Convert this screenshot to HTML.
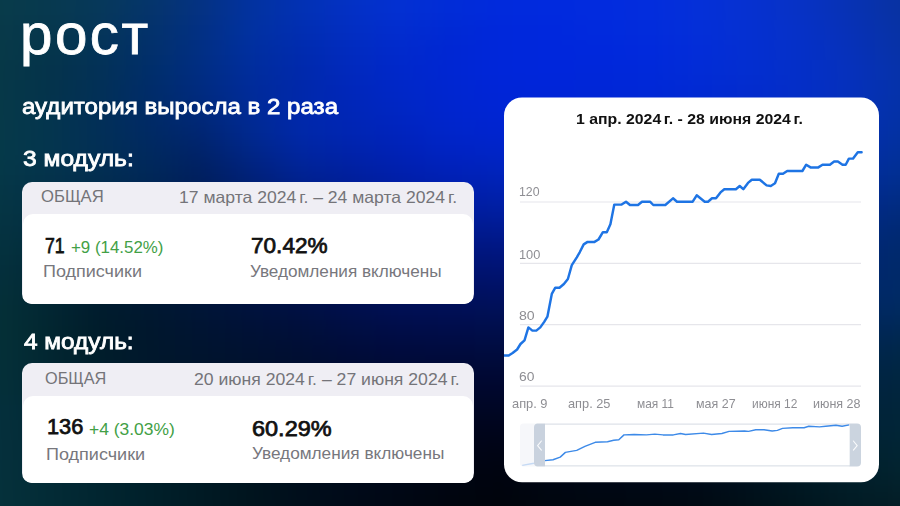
<!DOCTYPE html>
<html><head><meta charset="utf-8">
<style>
*{margin:0;padding:0;box-sizing:border-box}
html,body{width:900px;height:506px;overflow:hidden}
body{position:relative;font-family:"Liberation Sans",sans-serif;background:#01060f}
#bg{position:absolute;left:0;top:0;width:900px;height:506px;overflow:hidden}
#bgi{position:absolute;left:0;top:0;width:900px;height:506px;filter:blur(8px)}
#bg i{position:absolute;left:-100px;width:1100px;height:20px}
.t{position:absolute;white-space:nowrap;line-height:1;transform-origin:0 0}
.card{position:absolute;left:22px;width:452px;background:#efeef4;border-radius:10px;overflow:hidden}
.card .in{position:absolute;left:1px;right:1px;bottom:0;background:#fff;border-radius:10px 10px 0 0}
</style></head><body>
<div id="bg"><div id="bgi"><i style="top:-40px;background:linear-gradient(90deg,rgb(9,59,75) 0px,rgb(9,59,75) 50px,rgb(9,59,75) 100px,rgb(8,58,80) 150px,rgb(7,57,91) 200px,rgb(6,54,108) 250px,rgb(5,51,130) 300px,rgb(3,51,159) 350px,rgb(3,50,179) 400px,rgb(3,50,197) 450px,rgb(3,49,211) 500px,rgb(2,45,216) 550px,rgb(1,43,220) 600px,rgb(1,43,222) 650px,rgb(2,44,222) 700px,rgb(4,46,221) 750px,rgb(5,49,216) 800px,rgb(6,50,208) 850px,rgb(7,50,196) 900px,rgb(8,50,179) 950px,rgb(8,50,161) 1000px,rgb(8,50,161) 1050px,rgb(8,50,161) 1100px)"></i><i style="top:-20px;background:linear-gradient(90deg,rgb(9,59,75) 0px,rgb(9,59,75) 50px,rgb(9,59,75) 100px,rgb(8,58,80) 150px,rgb(7,57,91) 200px,rgb(6,54,108) 250px,rgb(5,51,130) 300px,rgb(3,51,159) 350px,rgb(3,50,179) 400px,rgb(3,50,197) 450px,rgb(3,49,211) 500px,rgb(2,45,216) 550px,rgb(1,43,220) 600px,rgb(1,43,222) 650px,rgb(2,44,222) 700px,rgb(4,46,221) 750px,rgb(5,49,216) 800px,rgb(6,50,208) 850px,rgb(7,50,196) 900px,rgb(8,50,179) 950px,rgb(8,50,161) 1000px,rgb(8,50,161) 1050px,rgb(8,50,161) 1100px)"></i><i style="top:0px;background:linear-gradient(90deg,rgb(8,59,74) 0px,rgb(8,59,74) 50px,rgb(8,59,74) 100px,rgb(7,57,79) 150px,rgb(6,56,90) 200px,rgb(5,52,107) 250px,rgb(4,50,130) 300px,rgb(2,50,159) 350px,rgb(2,49,179) 400px,rgb(3,48,196) 450px,rgb(3,48,210) 500px,rgb(1,44,215) 550px,rgb(1,42,220) 600px,rgb(1,42,222) 650px,rgb(2,43,222) 700px,rgb(3,45,221) 750px,rgb(5,48,216) 800px,rgb(6,49,208) 850px,rgb(7,50,197) 900px,rgb(7,50,180) 950px,rgb(8,50,162) 1000px,rgb(8,50,162) 1050px,rgb(8,50,162) 1100px)"></i><i style="top:20px;background:linear-gradient(90deg,rgb(8,57,73) 0px,rgb(8,57,73) 50px,rgb(8,57,73) 100px,rgb(6,55,77) 150px,rgb(5,53,89) 200px,rgb(3,50,107) 250px,rgb(2,48,131) 300px,rgb(1,49,160) 350px,rgb(1,46,177) 400px,rgb(2,46,194) 450px,rgb(2,45,207) 500px,rgb(0,41,212) 550px,rgb(0,40,219) 600px,rgb(0,40,221) 650px,rgb(1,42,221) 700px,rgb(2,44,220) 750px,rgb(4,47,216) 800px,rgb(5,48,209) 850px,rgb(6,49,199) 900px,rgb(7,49,183) 950px,rgb(7,50,164) 1000px,rgb(7,50,164) 1050px,rgb(7,50,164) 1100px)"></i><i style="top:40px;background:linear-gradient(90deg,rgb(7,57,72) 0px,rgb(7,57,72) 50px,rgb(7,57,72) 100px,rgb(5,53,75) 150px,rgb(3,51,88) 200px,rgb(2,48,107) 250px,rgb(1,47,131) 300px,rgb(0,47,159) 350px,rgb(0,43,174) 400px,rgb(1,43,191) 450px,rgb(1,42,204) 500px,rgb(0,39,211) 550px,rgb(0,39,218) 600px,rgb(0,39,220) 650px,rgb(0,40,220) 700px,rgb(1,42,220) 750px,rgb(3,45,216) 800px,rgb(4,47,209) 850px,rgb(5,48,200) 900px,rgb(6,49,186) 950px,rgb(7,50,167) 1000px,rgb(7,50,167) 1050px,rgb(7,50,167) 1100px)"></i><i style="top:60px;background:linear-gradient(90deg,rgb(6,56,71) 0px,rgb(6,56,71) 50px,rgb(6,56,71) 100px,rgb(5,51,75) 150px,rgb(3,49,87) 200px,rgb(0,46,106) 250px,rgb(0,45,130) 300px,rgb(0,45,156) 350px,rgb(0,41,171) 400px,rgb(1,41,189) 450px,rgb(0,40,202) 500px,rgb(0,38,210) 550px,rgb(0,38,217) 600px,rgb(0,38,219) 650px,rgb(0,39,218) 700px,rgb(0,41,218) 750px,rgb(2,44,214) 800px,rgb(3,46,208) 850px,rgb(4,47,200) 900px,rgb(6,49,188) 950px,rgb(6,50,169) 1000px,rgb(6,50,169) 1050px,rgb(6,50,169) 1100px)"></i><i style="top:80px;background:linear-gradient(90deg,rgb(6,56,72) 0px,rgb(6,56,72) 50px,rgb(6,56,72) 100px,rgb(4,51,75) 150px,rgb(2,48,87) 200px,rgb(0,44,105) 250px,rgb(0,43,127) 300px,rgb(0,43,153) 350px,rgb(0,40,170) 400px,rgb(0,39,186) 450px,rgb(0,39,199) 500px,rgb(0,38,208) 550px,rgb(0,37,215) 600px,rgb(0,37,216) 650px,rgb(0,38,215) 700px,rgb(0,40,215) 750px,rgb(1,42,211) 800px,rgb(3,44,206) 850px,rgb(4,46,199) 900px,rgb(5,48,188) 950px,rgb(5,50,169) 1000px,rgb(5,50,169) 1050px,rgb(5,50,169) 1100px)"></i><i style="top:100px;background:linear-gradient(90deg,rgb(6,57,72) 0px,rgb(6,57,72) 50px,rgb(6,57,72) 100px,rgb(4,52,77) 150px,rgb(2,47,88) 200px,rgb(0,43,103) 250px,rgb(0,41,122) 300px,rgb(0,42,149) 350px,rgb(0,40,171) 400px,rgb(0,38,183) 450px,rgb(0,38,195) 500px,rgb(0,37,206) 550px,rgb(0,37,212) 600px,rgb(0,37,212) 650px,rgb(0,37,211) 700px,rgb(0,39,210) 750px,rgb(1,41,206) 800px,rgb(2,43,201) 850px,rgb(3,46,195) 900px,rgb(4,48,185) 950px,rgb(4,49,167) 1000px,rgb(4,49,167) 1050px,rgb(4,49,167) 1100px)"></i><i style="top:120px;background:linear-gradient(90deg,rgb(6,57,73) 0px,rgb(6,57,73) 50px,rgb(6,57,73) 100px,rgb(4,53,78) 150px,rgb(2,47,87) 200px,rgb(0,42,100) 250px,rgb(0,38,115) 300px,rgb(0,41,144) 350px,rgb(0,40,169) 400px,rgb(0,37,179) 450px,rgb(0,36,190) 500px,rgb(0,37,202) 550px,rgb(0,36,208) 600px,rgb(0,36,206) 650px,rgb(0,36,205) 700px,rgb(0,37,203) 750px,rgb(0,40,200) 800px,rgb(1,42,195) 850px,rgb(2,44,189) 900px,rgb(3,47,179) 950px,rgb(3,49,163) 1000px,rgb(3,49,163) 1050px,rgb(3,49,163) 1100px)"></i><i style="top:140px;background:linear-gradient(90deg,rgb(5,57,73) 0px,rgb(5,57,73) 50px,rgb(5,57,73) 100px,rgb(4,53,78) 150px,rgb(2,47,85) 200px,rgb(0,41,95) 250px,rgb(0,35,106) 300px,rgb(0,38,135) 350px,rgb(0,38,161) 400px,rgb(0,35,171) 450px,rgb(0,34,183) 500px,rgb(0,35,195) 550px,rgb(0,36,200) 600px,rgb(0,35,198) 650px,rgb(0,35,197) 700px,rgb(0,36,195) 750px,rgb(0,38,192) 800px,rgb(1,41,188) 850px,rgb(1,43,181) 900px,rgb(2,46,171) 950px,rgb(2,48,156) 1000px,rgb(2,48,156) 1050px,rgb(2,48,156) 1100px)"></i><i style="top:160px;background:linear-gradient(90deg,rgb(5,56,72) 0px,rgb(5,56,72) 50px,rgb(5,56,72) 100px,rgb(4,51,76) 150px,rgb(2,46,82) 200px,rgb(0,40,90) 250px,rgb(0,32,97) 300px,rgb(0,34,124) 350px,rgb(0,35,149) 400px,rgb(0,32,160) 450px,rgb(0,32,174) 500px,rgb(0,33,185) 550px,rgb(0,35,189) 600px,rgb(0,34,188) 650px,rgb(0,34,187) 700px,rgb(0,35,186) 750px,rgb(0,37,183) 800px,rgb(0,39,179) 850px,rgb(1,42,172) 900px,rgb(1,45,161) 950px,rgb(1,47,148) 1000px,rgb(1,47,148) 1050px,rgb(1,47,148) 1100px)"></i><i style="top:180px;background:linear-gradient(90deg,rgb(5,54,70) 0px,rgb(5,54,70) 50px,rgb(5,54,70) 100px,rgb(3,49,73) 150px,rgb(1,44,77) 200px,rgb(0,37,83) 250px,rgb(0,30,90) 300px,rgb(0,31,113) 350px,rgb(0,31,136) 400px,rgb(0,29,149) 450px,rgb(0,29,163) 500px,rgb(0,31,172) 550px,rgb(0,33,176) 600px,rgb(0,32,176) 650px,rgb(0,32,176) 700px,rgb(0,33,175) 750px,rgb(0,35,173) 800px,rgb(0,38,169) 850px,rgb(0,41,162) 900px,rgb(0,43,151) 950px,rgb(1,45,137) 1000px,rgb(1,45,137) 1050px,rgb(1,45,137) 1100px)"></i><i style="top:200px;background:linear-gradient(90deg,rgb(5,53,68) 0px,rgb(5,53,68) 50px,rgb(5,53,68) 100px,rgb(3,47,69) 150px,rgb(1,41,72) 200px,rgb(0,35,76) 250px,rgb(0,28,84) 300px,rgb(0,28,102) 350px,rgb(0,28,123) 400px,rgb(0,27,137) 450px,rgb(0,26,149) 500px,rgb(0,28,158) 550px,rgb(0,30,161) 600px,rgb(0,30,162) 650px,rgb(0,30,163) 700px,rgb(0,32,164) 750px,rgb(0,34,162) 800px,rgb(0,37,158) 850px,rgb(0,39,151) 900px,rgb(0,41,139) 950px,rgb(1,43,126) 1000px,rgb(1,43,126) 1050px,rgb(1,43,126) 1100px)"></i><i style="top:220px;background:linear-gradient(90deg,rgb(5,51,65) 0px,rgb(5,51,65) 50px,rgb(5,51,65) 100px,rgb(3,44,64) 150px,rgb(1,38,66) 200px,rgb(0,32,69) 250px,rgb(0,27,77) 300px,rgb(0,25,93) 350px,rgb(0,25,110) 400px,rgb(0,24,124) 450px,rgb(0,24,135) 500px,rgb(0,25,142) 550px,rgb(0,26,145) 600px,rgb(0,27,148) 650px,rgb(0,28,150) 700px,rgb(0,30,151) 750px,rgb(0,32,151) 800px,rgb(0,35,147) 850px,rgb(0,38,140) 900px,rgb(0,40,129) 950px,rgb(0,41,116) 1000px,rgb(0,41,116) 1050px,rgb(0,41,116) 1100px)"></i><i style="top:240px;background:linear-gradient(90deg,rgb(4,50,62) 0px,rgb(4,50,62) 50px,rgb(4,50,62) 100px,rgb(2,42,60) 150px,rgb(1,35,59) 200px,rgb(0,29,63) 250px,rgb(0,25,70) 300px,rgb(0,23,83) 350px,rgb(0,22,98) 400px,rgb(0,21,111) 450px,rgb(0,21,121) 500px,rgb(0,21,126) 550px,rgb(0,22,129) 600px,rgb(0,24,133) 650px,rgb(0,26,137) 700px,rgb(0,28,139) 750px,rgb(0,31,139) 800px,rgb(0,34,136) 850px,rgb(0,37,130) 900px,rgb(0,39,120) 950px,rgb(0,41,109) 1000px,rgb(0,41,109) 1050px,rgb(0,41,109) 1100px)"></i><i style="top:260px;background:linear-gradient(90deg,rgb(4,48,60) 0px,rgb(4,48,60) 50px,rgb(4,48,60) 100px,rgb(2,40,56) 150px,rgb(0,32,54) 200px,rgb(0,27,57) 250px,rgb(0,23,64) 300px,rgb(0,21,75) 350px,rgb(0,20,86) 400px,rgb(0,19,98) 450px,rgb(0,19,107) 500px,rgb(0,19,111) 550px,rgb(0,19,114) 600px,rgb(0,22,119) 650px,rgb(0,24,124) 700px,rgb(0,26,126) 750px,rgb(0,29,127) 800px,rgb(0,33,125) 850px,rgb(0,36,120) 900px,rgb(0,39,113) 950px,rgb(0,41,105) 1000px,rgb(0,41,105) 1050px,rgb(0,41,105) 1100px)"></i><i style="top:280px;background:linear-gradient(90deg,rgb(4,48,58) 0px,rgb(4,48,58) 50px,rgb(4,48,58) 100px,rgb(2,39,52) 150px,rgb(0,30,49) 200px,rgb(0,25,52) 250px,rgb(0,22,59) 300px,rgb(0,19,67) 350px,rgb(0,18,76) 400px,rgb(0,17,86) 450px,rgb(0,17,94) 500px,rgb(0,17,98) 550px,rgb(0,17,100) 600px,rgb(0,19,105) 650px,rgb(0,22,110) 700px,rgb(0,24,114) 750px,rgb(0,28,115) 800px,rgb(0,31,114) 850px,rgb(0,35,111) 900px,rgb(0,39,107) 950px,rgb(0,42,103) 1000px,rgb(0,42,103) 1050px,rgb(0,42,103) 1100px)"></i><i style="top:300px;background:linear-gradient(90deg,rgb(4,48,56) 0px,rgb(4,48,56) 50px,rgb(4,48,56) 100px,rgb(2,38,50) 150px,rgb(0,28,45) 200px,rgb(0,24,48) 250px,rgb(0,21,54) 300px,rgb(0,18,60) 350px,rgb(0,16,66) 400px,rgb(0,15,75) 450px,rgb(0,15,83) 500px,rgb(0,15,85) 550px,rgb(0,16,87) 600px,rgb(0,17,92) 650px,rgb(0,20,98) 700px,rgb(0,22,102) 750px,rgb(0,26,104) 800px,rgb(0,30,103) 850px,rgb(0,34,101) 900px,rgb(0,38,99) 950px,rgb(0,42,96) 1000px,rgb(0,42,96) 1050px,rgb(0,42,96) 1100px)"></i><i style="top:320px;background:linear-gradient(90deg,rgb(4,48,55) 0px,rgb(4,48,55) 50px,rgb(4,48,55) 100px,rgb(2,38,48) 150px,rgb(0,28,43) 200px,rgb(0,23,45) 250px,rgb(0,20,50) 300px,rgb(0,17,54) 350px,rgb(0,15,58) 400px,rgb(0,14,66) 450px,rgb(0,13,72) 500px,rgb(0,13,74) 550px,rgb(0,14,75) 600px,rgb(0,15,80) 650px,rgb(0,18,86) 700px,rgb(0,21,90) 750px,rgb(0,24,92) 800px,rgb(0,29,93) 850px,rgb(0,33,91) 900px,rgb(0,37,89) 950px,rgb(0,40,85) 1000px,rgb(0,40,85) 1050px,rgb(0,40,85) 1100px)"></i><i style="top:340px;background:linear-gradient(90deg,rgb(4,48,56) 0px,rgb(4,48,56) 50px,rgb(4,48,56) 100px,rgb(2,38,49) 150px,rgb(0,29,43) 200px,rgb(0,23,44) 250px,rgb(0,20,47) 300px,rgb(0,17,49) 350px,rgb(0,14,52) 400px,rgb(0,12,58) 450px,rgb(0,11,62) 500px,rgb(0,11,63) 550px,rgb(0,12,64) 600px,rgb(0,13,69) 650px,rgb(0,16,74) 700px,rgb(0,19,79) 750px,rgb(0,23,81) 800px,rgb(0,27,83) 850px,rgb(0,32,82) 900px,rgb(0,36,79) 950px,rgb(0,39,74) 1000px,rgb(0,39,74) 1050px,rgb(0,39,74) 1100px)"></i><i style="top:360px;background:linear-gradient(90deg,rgb(4,48,57) 0px,rgb(4,48,57) 50px,rgb(4,48,57) 100px,rgb(2,38,50) 150px,rgb(0,30,44) 200px,rgb(0,24,43) 250px,rgb(0,20,44) 300px,rgb(0,17,45) 350px,rgb(0,14,47) 400px,rgb(0,11,50) 450px,rgb(0,10,53) 500px,rgb(0,9,53) 550px,rgb(0,9,54) 600px,rgb(0,11,58) 650px,rgb(0,14,64) 700px,rgb(0,17,68) 750px,rgb(0,21,71) 800px,rgb(0,26,73) 850px,rgb(0,31,73) 900px,rgb(0,35,70) 950px,rgb(0,38,67) 1000px,rgb(0,38,67) 1050px,rgb(0,38,67) 1100px)"></i><i style="top:380px;background:linear-gradient(90deg,rgb(4,48,58) 0px,rgb(4,48,58) 50px,rgb(4,48,58) 100px,rgb(2,39,51) 150px,rgb(1,31,45) 200px,rgb(0,25,42) 250px,rgb(0,21,42) 300px,rgb(0,17,42) 350px,rgb(0,13,42) 400px,rgb(0,11,44) 450px,rgb(0,9,45) 500px,rgb(0,7,44) 550px,rgb(0,7,45) 600px,rgb(0,9,49) 650px,rgb(0,12,54) 700px,rgb(0,15,58) 750px,rgb(0,19,61) 800px,rgb(0,24,64) 850px,rgb(0,30,65) 900px,rgb(0,34,64) 950px,rgb(1,37,62) 1000px,rgb(1,37,62) 1050px,rgb(1,37,62) 1100px)"></i><i style="top:400px;background:linear-gradient(90deg,rgb(4,48,60) 0px,rgb(4,48,60) 50px,rgb(4,48,60) 100px,rgb(2,40,53) 150px,rgb(1,32,46) 200px,rgb(0,26,42) 250px,rgb(0,22,40) 300px,rgb(0,17,39) 350px,rgb(0,13,38) 400px,rgb(0,10,39) 450px,rgb(0,8,38) 500px,rgb(0,6,36) 550px,rgb(0,6,36) 600px,rgb(0,8,40) 650px,rgb(0,11,45) 700px,rgb(0,13,49) 750px,rgb(0,17,52) 800px,rgb(0,23,55) 850px,rgb(0,29,58) 900px,rgb(0,34,59) 950px,rgb(1,37,58) 1000px,rgb(1,37,58) 1050px,rgb(1,37,58) 1100px)"></i><i style="top:420px;background:linear-gradient(90deg,rgb(5,48,60) 0px,rgb(5,48,60) 50px,rgb(5,48,60) 100px,rgb(3,41,53) 150px,rgb(1,34,47) 200px,rgb(0,28,42) 250px,rgb(0,23,39) 300px,rgb(0,18,36) 350px,rgb(0,13,35) 400px,rgb(0,10,34) 450px,rgb(0,7,32) 500px,rgb(0,5,29) 550px,rgb(0,5,28) 600px,rgb(0,7,32) 650px,rgb(0,9,37) 700px,rgb(0,12,40) 750px,rgb(0,16,44) 800px,rgb(0,21,47) 850px,rgb(0,28,51) 900px,rgb(0,33,54) 950px,rgb(1,37,55) 1000px,rgb(1,37,55) 1050px,rgb(1,37,55) 1100px)"></i><i style="top:440px;background:linear-gradient(90deg,rgb(5,48,60) 0px,rgb(5,48,60) 50px,rgb(5,48,60) 100px,rgb(3,42,54) 150px,rgb(1,35,48) 200px,rgb(0,29,42) 250px,rgb(0,24,38) 300px,rgb(0,18,34) 350px,rgb(0,14,32) 400px,rgb(0,10,31) 450px,rgb(0,7,28) 500px,rgb(0,5,23) 550px,rgb(0,4,21) 600px,rgb(0,6,26) 650px,rgb(0,8,30) 700px,rgb(0,10,33) 750px,rgb(0,14,36) 800px,rgb(0,19,40) 850px,rgb(0,26,45) 900px,rgb(0,33,49) 950px,rgb(1,36,51) 1000px,rgb(1,36,51) 1050px,rgb(1,36,51) 1100px)"></i><i style="top:460px;background:linear-gradient(90deg,rgb(5,49,60) 0px,rgb(5,49,60) 50px,rgb(5,49,60) 100px,rgb(3,42,54) 150px,rgb(1,36,48) 200px,rgb(0,31,42) 250px,rgb(0,25,37) 300px,rgb(0,19,32) 350px,rgb(0,14,30) 400px,rgb(0,10,27) 450px,rgb(0,7,24) 500px,rgb(0,5,19) 550px,rgb(0,4,16) 600px,rgb(0,6,21) 650px,rgb(0,8,24) 700px,rgb(0,9,26) 750px,rgb(0,12,28) 800px,rgb(0,18,33) 850px,rgb(0,25,39) 900px,rgb(0,31,45) 950px,rgb(2,35,47) 1000px,rgb(2,35,47) 1050px,rgb(2,35,47) 1100px)"></i><i style="top:480px;background:linear-gradient(90deg,rgb(5,49,59) 0px,rgb(5,49,59) 50px,rgb(5,49,59) 100px,rgb(3,43,54) 150px,rgb(1,37,48) 200px,rgb(0,32,42) 250px,rgb(0,26,36) 300px,rgb(0,20,30) 350px,rgb(0,14,27) 400px,rgb(0,10,25) 450px,rgb(0,7,21) 500px,rgb(0,5,16) 550px,rgb(0,4,13) 600px,rgb(0,6,17) 650px,rgb(0,7,19) 700px,rgb(0,8,20) 750px,rgb(0,10,22) 800px,rgb(0,16,27) 850px,rgb(0,23,33) 900px,rgb(1,29,39) 950px,rgb(3,32,42) 1000px,rgb(3,32,42) 1050px,rgb(3,32,42) 1100px)"></i><i style="top:500px;background:linear-gradient(90deg,rgb(5,49,58) 0px,rgb(5,49,58) 50px,rgb(5,49,58) 100px,rgb(3,44,53) 150px,rgb(1,38,48) 200px,rgb(0,32,42) 250px,rgb(0,26,35) 300px,rgb(0,20,29) 350px,rgb(0,15,26) 400px,rgb(0,10,23) 450px,rgb(0,7,18) 500px,rgb(0,5,14) 550px,rgb(0,5,11) 600px,rgb(0,6,14) 650px,rgb(0,6,15) 700px,rgb(0,7,16) 750px,rgb(0,9,17) 800px,rgb(0,15,23) 850px,rgb(1,21,29) 900px,rgb(2,26,35) 950px,rgb(4,28,37) 1000px,rgb(4,28,37) 1050px,rgb(4,28,37) 1100px)"></i><i style="top:520px;background:linear-gradient(90deg,rgb(5,49,58) 0px,rgb(5,49,58) 50px,rgb(5,49,58) 100px,rgb(3,44,53) 150px,rgb(1,38,48) 200px,rgb(0,32,42) 250px,rgb(0,26,35) 300px,rgb(0,20,29) 350px,rgb(0,15,26) 400px,rgb(0,10,23) 450px,rgb(0,7,18) 500px,rgb(0,5,14) 550px,rgb(0,5,11) 600px,rgb(0,6,14) 650px,rgb(0,6,15) 700px,rgb(0,7,16) 750px,rgb(0,9,17) 800px,rgb(0,15,23) 850px,rgb(1,21,29) 900px,rgb(2,26,35) 950px,rgb(4,28,37) 1000px,rgb(4,28,37) 1050px,rgb(4,28,37) 1100px)"></i><i style="top:540px;background:linear-gradient(90deg,rgb(5,49,58) 0px,rgb(5,49,58) 50px,rgb(5,49,58) 100px,rgb(3,44,53) 150px,rgb(1,38,48) 200px,rgb(0,32,42) 250px,rgb(0,26,35) 300px,rgb(0,20,29) 350px,rgb(0,15,26) 400px,rgb(0,10,23) 450px,rgb(0,7,18) 500px,rgb(0,5,14) 550px,rgb(0,5,11) 600px,rgb(0,6,14) 650px,rgb(0,6,15) 700px,rgb(0,7,16) 750px,rgb(0,9,17) 800px,rgb(0,15,23) 850px,rgb(1,21,29) 900px,rgb(2,26,35) 950px,rgb(4,28,37) 1000px,rgb(4,28,37) 1050px,rgb(4,28,37) 1100px)"></i></div></div>
<div class="t " style="left:20.0px;top:6.26px;font-size:57px;letter-spacing:2.4px;transform:scaleX(1.023);color:#fff;-webkit-text-stroke:0.8px #fff">рост</div>
<div class="t " style="left:22.0px;top:95.98px;font-size:22px;transform:scaleX(1.0941);color:#fff;-webkit-text-stroke:0.8px #fff">аудитория выросла в 2 раза</div>
<div class="t " style="left:23.0px;top:149.44px;font-size:21.5px;transform:scaleX(1.1448);color:#fff;-webkit-text-stroke:0.8px #fff">3 модуль:</div>
<div class="t " style="left:24.0px;top:332.0px;font-size:21.5px;transform:scaleX(1.1329);color:#fff;-webkit-text-stroke:0.8px #fff">4 модуль:</div>
<div class="card" style="top:182px;height:122px"><div class="in" style="top:32px"></div></div>
<div class="card" style="top:363px;height:120px"><div class="in" style="top:33px"></div></div>
<div class="t " style="left:41.4px;top:188.44px;font-size:16.4px;transform:scaleX(1.0169);color:#747479">ОБЩАЯ</div>
<div class="t " style="left:178.9px;top:188.8px;font-size:16.5px;transform:scaleX(1.0648);color:#747479">17 марта 2024&#8198;г. – 24 марта 2024&#8198;г.</div>
<div class="t " style="left:44.8px;top:234.82px;font-size:21.7px;transform:scaleX(0.8168);color:#111;-webkit-text-stroke:0.75px #111">71</div>
<div class="t " style="left:70.9px;top:239.42px;font-size:16.5px;transform:scaleX(1.0235);color:#42a046">+9 (14.52%)</div>
<div class="t " style="left:42.7px;top:263.5px;font-size:16px;transform:scaleX(1.1242);color:#77777d">Подписчики</div>
<div class="t " style="left:250.5px;top:234.82px;font-size:21.7px;transform:scaleX(1.0408);color:#111;-webkit-text-stroke:0.75px #111">70.42%</div>
<div class="t " style="left:249.5px;top:263.98px;font-size:16px;transform:scaleX(1.0719);color:#77777d">Уведомления включены</div>
<div class="t " style="left:44.5px;top:370.34px;font-size:16.4px;transform:scaleX(0.9938);color:#747479">ОБЩАЯ</div>
<div class="t " style="left:193.5px;top:371.4px;font-size:16.5px;transform:scaleX(1.0677);color:#747479">20 июня 2024&#8198;г. – 27 июня 2024&#8198;г.</div>
<div class="t " style="left:46.5px;top:416.38px;font-size:21.7px;transform:scaleX(1.0041);color:#111;-webkit-text-stroke:0.75px #111">136</div>
<div class="t " style="left:89.0px;top:421.1px;font-size:16.5px;transform:scaleX(1.0575);color:#42a046">+4 (3.03%)</div>
<div class="t " style="left:45.5px;top:447.26px;font-size:16px;transform:scaleX(1.1264);color:#77777d">Подписчики</div>
<div class="t " style="left:252.2px;top:417.58px;font-size:21.7px;transform:scaleX(1.0823);color:#111;-webkit-text-stroke:0.75px #111">60.29%</div>
<div class="t " style="left:252.2px;top:445.5px;font-size:16px;transform:scaleX(1.076);color:#77777d">Уведомления включены</div>
<svg style="position:absolute;left:0;top:0" width="900" height="506" viewBox="0 0 900 506">
  <defs><clipPath id="cc"><rect x="504" y="97.5" width="375" height="384.8" rx="18" ry="18"/></clipPath></defs>
  <rect x="504" y="97.5" width="375" height="384.8" rx="18" ry="18" fill="#fff"/>
  <g clip-path="url(#cc)">
    <g stroke="#e6e6eb" stroke-width="1.2">
      <line x1="520" y1="202" x2="861" y2="202"/>
      <line x1="520" y1="263.3" x2="861" y2="263.3"/>
      <line x1="520" y1="324.6" x2="861" y2="324.6"/>
      <line x1="520" y1="386.1" x2="861" y2="386.1"/>
    </g>
    <polyline points="503,355.5 508.7,355.5 512.6,353 517.1,349.5 520.5,344 524.5,340.3 528.4,327.4 532.4,330.6 536.3,330.6 540.3,327.4 544.2,321.9 547.4,316.7 551.8,293.9 555.3,287.7 559.5,287.7 563.9,284 567.9,279 571.8,265.2 576.8,257.3 579.7,252.3 583.7,244.4 587.6,241.9 594.5,241.9 598.5,239.5 602.9,232.2 606.8,232.2 610.4,224.3 614.3,204.6 621.6,204.6 626,201.7 630,205 638,205 642,201.7 650,201.7 653.3,205 665.3,205 673,198.3 677,201.7 692.7,201.7 696.7,195.3 704.7,201.7 708,201.7 712,198.3 716,198.3 720.5,192.4 724.3,189.2 735.9,189.2 739.7,186 743.3,189.2 748,182.9 751.8,179.7 759.8,179.7 766.6,185.4 770.8,186 775,183.3 778.8,173.8 783,173.8 787.2,171 802.4,171 806.2,164.7 810.5,167.4 818.3,167.4 822.5,164.7 829.9,164.7 834.1,161.5 837.9,161.5 842.5,164.7 845.7,164.7 848.9,158.6 853.1,158.6 857.8,152.2 861.6,152.2" fill="none" stroke="#1e74e4" stroke-width="2.45" stroke-linejoin="round" stroke-linecap="round"/>
    <rect x="545" y="423.6" width="305" height="42.8" fill="#fff"/>
    <line x1="545" y1="424.1" x2="850" y2="424.1" stroke="#d5dbe3" stroke-width="1"/>
    <line x1="545" y1="465.9" x2="850" y2="465.9" stroke="#d5dbe3" stroke-width="1"/>
    <polyline points="522.2,465.4 533.9,463.3 544.8,460.6 553,459.8 560.2,457.1 565.4,452.4 569.5,451.6 576.7,450.4 584.9,446.4 595.2,442.3 607.5,441.7 613.7,440.3 618.8,439.7 624,434.9 634.2,434.5 646.5,434.9 654.8,434.1 663,434.9 673.3,434.9 680.5,433.5 685.6,434.5 703.4,433.1 711.6,434.5 721.9,433.5 729.1,431.4 744.5,431 748.6,431.4 755.8,429.8 764,429.8 772.2,431 777.4,430.4 782.5,428.4 792.8,427.7 804.1,427.7 808.8,426.3 819.5,426.9 825.7,426.3 835.9,425.3 842.1,426.3 849.3,424.9" fill="none" stroke="#3d8ae8" stroke-width="1.45" stroke-linejoin="round"/>
    <path d="M538,423.6 H523.5 a3.5,3.5 0 0 0 -3.5,3.5 V463 a3.5,3.5 0 0 0 3.5,3.5 H538z" fill="#f3f4f8" fill-opacity="0.75"/>
    <path d="M545,423.4 V466.4 H538 a4,4 0 0 1 -4,-4 V427.4 a4,4 0 0 1 4,-4z" fill="#c9d2de"/>
    <path d="M849.7,423.4 V466.4 H857 a4,4 0 0 0 4,-4 V427.4 a4,4 0 0 0 -4,-4z" fill="#cbd4df"/>
    <path d="M541.4,441 L537.6,445.6 L541.4,450.2" fill="none" stroke="#fff" stroke-opacity="0.9" stroke-width="1.1" stroke-linecap="round" stroke-linejoin="round"/>
    <path d="M853.4,441 L857.2,445.6 L853.4,450.2" fill="none" stroke="#fff" stroke-opacity="0.9" stroke-width="1.1" stroke-linecap="round" stroke-linejoin="round"/>
  </g>
</svg>
<div class="t " style="left:575.9px;top:111.72px;font-size:14px;transform:scaleX(1.1298);color:#111;font-weight:bold">1 апр. 2024&#8198;г. - 28 июня 2024&#8198;г.</div>
<div class="t " style="left:519.0px;top:186.42px;font-size:12.2px;transform:scaleX(1.0096);color:#8e8e93">120</div>
<div class="t " style="left:518.7px;top:248.56px;font-size:12.2px;transform:scaleX(1.0511);color:#8e8e93">100</div>
<div class="t " style="left:518.7px;top:310.34px;font-size:12.2px;transform:scaleX(1.1592);color:#8e8e93">80</div>
<div class="t " style="left:519.1px;top:371.34px;font-size:12.2px;transform:scaleX(1.1343);color:#8e8e93">60</div>
<div class="t " style="left:512.1px;top:397.52px;font-size:12.2px;transform:scaleX(1.0537);color:#8e8e93">апр. 9</div>
<div class="t " style="left:568.0px;top:397.52px;font-size:12.2px;transform:scaleX(1.0495);color:#8e8e93">апр. 25</div>
<div class="t " style="left:636.8px;top:397.52px;font-size:12.2px;transform:scaleX(0.9787);color:#8e8e93">мая 11</div>
<div class="t " style="left:696.2px;top:397.52px;font-size:12.2px;transform:scaleX(1.0226);color:#8e8e93">мая 27</div>
<div class="t " style="left:751.7px;top:397.52px;font-size:12.2px;transform:scaleX(0.9802);color:#8e8e93">июня 12</div>
<div class="t " style="left:812.5px;top:397.52px;font-size:12.2px;transform:scaleX(1.0274);color:#8e8e93">июня 28</div>
</body></html>
